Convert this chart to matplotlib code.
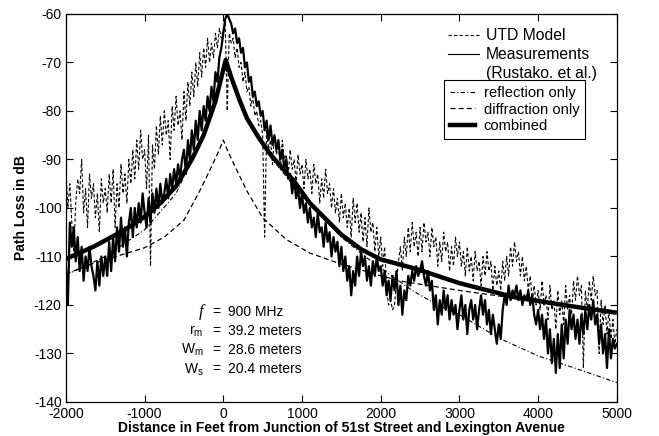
import numpy as np
import matplotlib as mpl
mpl.use("Agg")
import matplotlib.pyplot as plt
from matplotlib.lines import Line2D

plt.rcParams.update({
    'font.family': ['Liberation Sans', 'DejaVu Sans'],
    'axes.unicode_minus': False,
    'xtick.labelsize': 10,
    'ytick.labelsize': 10,
    'xtick.direction': 'in',
    'ytick.direction': 'in',
    'xtick.top': True,
    'ytick.right': True,
})

# ------------------------------------------------------------------
# data
# ------------------------------------------------------------------
# smooth model curves
refl_x = [-2000, -1500, -1000, -600, -300, -100, 0, 100, 300, 600, 1000, 1500, 1800,
          2100, 2400, 2700, 3000, 3500, 4000, 4500, 5000]
refl_y = [-113.8, -110.0, -104.5, -97.0, -86.5, -77.0, -70.5, -73.5, -82.0, -89.5, -97.5,
          -106.0, -110.0, -113.5, -117.0, -119.8, -122.0, -126.8, -130.5, -133.2, -136.0]

diff_x = [-2000, -1650, -1000, -750, -500, -300, -150, -50, 0, 50, 150, 300, 500, 800, 1100,
          1450, 2000, 2300, 3000, 3700, 4300, 5000]
diff_y = [-113.6, -111.4, -108.2, -106.0, -102.5, -96.5, -91.5, -88.0, -86.0, -88.0, -91.5,
          -96.5, -102.0, -106.5, -109.3, -111.3, -114.0, -115.2, -117.0, -118.6, -120.0, -121.7]

comb_x = [-2000, -1650, -1250, -1000, -800, -600, -400, -250, -100, 30, 100, 200, 300, 450,
          600, 900, 1100, 1500, 1750, 2000, 2460, 3000, 3700, 4400, 5000]
comb_y = [-110.5, -108.0, -104.5, -101.8, -99.0, -95.5, -90.0, -85.0, -78.0, -69.5, -73.0,
          -77.5, -81.5, -85.5, -89.0, -94.5, -99.0, -105.5, -108.5, -110.6, -112.6, -115.5,
          -118.4, -120.2, -121.6]

# noisy series sampled every 25 ft from -2000 to 5000
noisy_x = np.arange(-2000, 5001, 25)

meas_y = [
    -112, -120, -103, -108, -104, -111, -106, -113, -108, -115, -110, -113, -108, -112, -114, -117, -111, -116, -110, -114,
    -110, -114, -107, -113, -106, -111, -104, -109, -102, -108, -104, -110, -103, -100, -106, -100, -104, -99, -103, -97,
    -101, -104, -98, -103, -97, -101, -96, -100, -95, -99, -97, -94, -98, -93, -96, -92, -95, -91, -94, -90,
    -88, -93, -86, -90, -84, -88, -82, -86, -80, -84, -79, -82, -77, -80, -75, -78, -72, -74, -69, -67,
    -64, -61, -60, -61, -62, -64, -63, -66, -65, -68, -67, -71, -70, -74, -73, -77, -76, -79, -78, -81,
    -80, -84, -82, -86, -83, -87, -85, -88, -86, -90, -88, -92, -90, -94, -93, -97, -94, -98, -96, -100,
    -97, -101, -99, -103, -100, -104, -102, -106, -101, -105, -104, -108, -103, -107, -105, -110, -106, -109, -107, -112,
    -108, -113, -110, -115, -112, -118, -113, -116, -110, -114, -109, -112, -110, -115, -112, -116, -111, -114, -110, -113,
    -112, -116, -113, -118, -115, -119, -114, -117, -113, -120, -116, -122, -117, -119, -114, -116, -113, -115, -112, -114,
    -113, -111, -114, -116, -113, -117, -115, -121, -118, -124, -119, -122, -117, -121, -118, -123, -119, -122, -120, -125,
    -121, -118, -123, -120, -126, -121, -119, -123, -120, -125, -121, -118, -122, -119, -124, -121, -126, -122, -125, -128,
    -124, -127, -121, -118, -120, -116, -119, -117, -118, -116, -119, -117, -120, -118, -119, -117, -120, -118, -122, -124,
    -121, -125, -122, -127, -123, -130, -125, -132, -127, -134, -126, -133, -124, -131, -123, -128, -121, -125, -122, -127,
    -123, -128, -122, -126, -121, -125, -120, -123, -119, -124, -122, -128, -124, -130, -126, -133, -125, -131, -127, -129,
    -128,
]

utd_y = [
    -92, -100, -95, -103, -109, -99, -94, -97, -90, -101, -96, -104, -93, -98, -95, -102, -97, -105, -94, -99,
    -96, -101, -93, -99, -92, -104, -95, -100, -91, -97, -93, -99, -90, -95, -88, -94, -86, -92, -84, -90,
    -88, -96, -85, -112, -87, -92, -83, -89, -81, -87, -80, -85, -82, -90, -79, -84, -77, -83, -80, -86,
    -76, -82, -74, -79, -72, -77, -70, -75, -68, -73, -67, -71, -65, -70, -66, -69, -64, -67, -63, -65,
    -63, -62, -80, -64, -66, -65, -69, -67, -71, -70, -74, -72, -76, -75, -79, -77, -81, -80, -83, -82,
    -85, -106, -84, -88, -86, -91, -85, -89, -87, -92, -86, -90, -89, -93, -88, -92, -90, -95, -89, -93,
    -91, -96, -90, -94, -92, -97, -91, -95, -93, -99, -94, -98, -92, -97, -95, -100, -96, -101, -98, -103,
    -97, -102, -99, -104, -100, -106, -98, -103, -99, -105, -101, -107, -102, -108, -100, -105, -103, -109, -104, -110,
    -106, -112, -108, -117, -120, -119, -121, -120, -115, -111, -108, -113, -106, -110, -104, -109, -103, -108, -105, -110,
    -104, -109, -103, -107, -105, -110, -104, -108, -106, -112, -107, -111, -105, -109, -107, -113, -108, -112, -106, -110,
    -107, -112, -109, -114, -108, -113, -110, -115, -109, -113, -111, -116, -110, -114, -109, -113, -111, -117, -112, -116,
    -113, -117, -111, -115, -110, -114, -108, -112, -107, -111, -109, -114, -110, -115, -112, -117, -114, -119, -116, -120,
    -117, -121, -115, -120, -118, -123, -116, -121, -119, -125, -117, -122, -119, -124, -116, -121, -118, -122, -115, -119,
    -114, -118, -116, -133, -117, -121, -115, -119, -114, -118, -117, -130, -119, -124, -120, -126, -121, -127, -123, -128,
    -125,
]

xticks = [-2000, -1000, 0, 1000, 2000, 3000, 4000, 5000]
yticks = [-140, -130, -120, -110, -100, -90, -80, -70, -60]

params = [("$f$", "900 MHz"), ("r$_\\mathregular{m}$", "39.2 meters"),
          ("W$_\\mathregular{m}$", "28.6 meters"), ("W$_\\mathregular{s}$", "20.4 meters")]

# ------------------------------------------------------------------
# plotting
# ------------------------------------------------------------------
fig = plt.figure(figsize=(6.59, 4.36), dpi=100)
ax = fig.add_axes([0.100, 0.078, 0.836, 0.890])

utd_ls = (0, (3, 2))
refl_ls = (0, (4, 2, 1, 2))
diff_ls = (0, (4, 2.5))

ax.plot(noisy_x, utd_y, color="black", lw=0.8, ls=utd_ls)
ax.plot(noisy_x, meas_y, color="black", lw=1.6)
ax.plot(refl_x, refl_y, color="black", lw=0.8, ls=refl_ls)
ax.plot(diff_x, diff_y, color="black", lw=0.9, ls=diff_ls)
ax.plot(comb_x, comb_y, color="black", lw=3.2, solid_capstyle="butt")

ax.set_xlim(-2000, 5000)
ax.set_ylim(-140, -60)
ax.set_xticks(xticks)
ax.set_yticks(yticks)
ax.tick_params(length=5, width=0.8)
ax.tick_params(axis="x", pad=3.5)
ax.tick_params(axis="y", pad=3)
for s in ax.spines.values():
    s.set_linewidth(0.9)

ax.set_xlabel("Distance in Feet from Junction of 51st Street and Lexington Avenue",
              fontsize=10, fontweight="bold", labelpad=0)
ax.set_ylabel("Path Loss in dB", fontsize=10, fontweight="bold", labelpad=4)

# legends
h_top = [Line2D([], [], color="black", lw=0.8, ls=utd_ls),
         Line2D([], [], color="black", lw=0.8),
         Line2D([], [], color="none")]
leg1 = fig.legend(h_top, ["UTD Model", "Measurements", "(Rustako. et al.)"],
                  loc="upper left", bbox_to_anchor=(448/659, 1-28/436),
                  bbox_transform=fig.transFigure, frameon=False, fontsize=11.3,
                  handlelength=2.0, handletextpad=0.4, labelspacing=0.26,
                  borderpad=0, borderaxespad=0)

h_box = [Line2D([], [], color="black", lw=0.8, ls=refl_ls),
         Line2D([], [], color="black", lw=0.9, ls=diff_ls),
         Line2D([], [], color="black", lw=3.2)]
leg2 = fig.legend(h_box, ["reflection only", "diffraction only", "combined"],
                  loc="upper left", bbox_to_anchor=(444/659, 1-80/436),
                  bbox_transform=fig.transFigure, frameon=True, fancybox=False,
                  fontsize=10.6, handlelength=1.7, handletextpad=0.6, labelspacing=0.18,
                  borderpad=0.4, borderaxespad=0, framealpha=1)
leg2.get_frame().set_edgecolor("black")
leg2.get_frame().set_linewidth(0.8)

# parameter annotation
ys = [0.232, 0.183, 0.134, 0.084]
for (sym, val), yy in zip(params, ys):
    if sym == "$f$":
        ax.text(0.250, yy, "f", transform=ax.transAxes, fontsize=12, ha="right", va="center",
                family="Liberation Serif", style="italic")
    else:
        ax.text(0.250, yy, sym, transform=ax.transAxes, fontsize=10, ha="right", va="center")
    ax.text(0.266, yy, "=", transform=ax.transAxes, fontsize=10, ha="left", va="center")
    ax.text(0.294, yy, val, transform=ax.transAxes, fontsize=10, ha="left", va="center")

plt.savefig("out.png", dpi=100)
plt.close()
